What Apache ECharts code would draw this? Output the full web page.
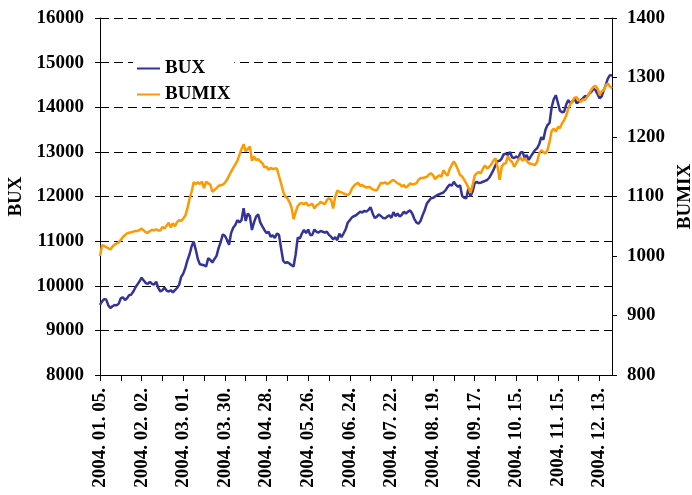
<!DOCTYPE html>
<html>
<head>
<meta charset="utf-8">
<script src="https://cdn.jsdelivr.net/npm/echarts@6/dist/echarts.min.js"></script>
<style>
html, body { margin: 0; padding: 0; background: #fff; }
#main { width: 692px; height: 495px; }
</style>
</head>
<body>
<div id="main"></div>
<script>
// trading days of the Budapest exchange, 2004
var firstDay = '2004-01-05';
var dayCount = 247;
var holidays = ['2004-03-15', '2004-04-12', '2004-05-31', '2004-08-20', '2004-11-01'];

// BUX, left axis
var bux = [
  9570, 9650, 9700, 9690, 9560, 9500, 9540, 9570, 9560, 9600,
  9720, 9740, 9680, 9720, 9790, 9800, 9870, 9960, 10030, 10100,
  10180, 10120, 10060, 10040, 10090, 10040, 10030, 10090, 9950, 9870,
  9900, 9960, 9890, 9870, 9900, 9850, 9900, 9950, 10020, 10200,
  10270, 10400, 10570, 10700, 10880, 10990, 10810, 10600, 10480, 10470,
  10460, 10430, 10620, 10580, 10520, 10600, 10670, 10850, 10980, 11150,
  11120, 11030, 10920, 11180, 11300, 11360, 11470, 11420, 11470, 11740,
  11450, 11620, 11560, 11250, 11420, 11550, 11600, 11420, 11330, 11250,
  11180, 11210, 11100, 11130, 11070, 11170, 11140, 10840, 10560, 10510,
  10530, 10500, 10460, 10430, 10700, 11080, 11060, 11170, 11250, 11180,
  11260, 11140, 11140, 11260, 11210, 11190, 11230, 11210, 11190, 11210,
  11140, 11100, 11040, 11090, 11020, 11170, 11090, 11170, 11260, 11410,
  11470, 11530, 11560, 11580, 11620, 11660, 11640, 11680, 11660, 11700,
  11760, 11620, 11520, 11550, 11600, 11560, 11520, 11510, 11550, 11580,
  11520, 11650, 11560, 11620, 11550, 11590, 11660, 11620, 11660, 11690,
  11620, 11500, 11420, 11390, 11450, 11580, 11690, 11840, 11900, 11960,
  11970, 12000, 12030, 12050, 12070, 12090, 12140, 12210, 12270, 12240,
  12330, 12260, 12220, 12250, 12010, 11970, 11960, 12180, 12000, 12110,
  12290, 12330, 12300, 12310, 12330, 12350, 12370, 12420, 12500, 12590,
  12700, 12790, 12800, 12850, 12950, 12960, 12930, 13000, 12880, 12860,
  12900, 12860, 12980, 13000, 12870, 12930, 12820, 12900, 12970, 13040,
  13080, 13170, 13330, 13270, 13490, 13600, 13650, 14000, 14180, 14270,
  14100, 13920, 13890, 13900, 14060, 14160, 14090, 14130, 14200, 14090,
  14120, 14160, 14200, 14250, 14240, 14300, 14340, 14410, 14390, 14300,
  14200, 14240, 14380, 14500, 14640, 14720, 14710
];

// BUMIX, right axis
var bumix = [
  1000, 1018, 1017, 1015, 1013, 1011, 1016, 1019, 1021, 1023,
  1027, 1032, 1035, 1038, 1039, 1040, 1041, 1042, 1042, 1044,
  1046, 1043, 1040, 1039, 1042, 1044, 1043, 1045, 1043, 1043,
  1049, 1046, 1051, 1056, 1048, 1055, 1050, 1057, 1060, 1059,
  1063, 1068, 1080, 1096, 1108, 1124, 1121, 1124, 1121, 1125,
  1114, 1125, 1122, 1120, 1108, 1111, 1114, 1118, 1119, 1120,
  1123, 1128, 1135, 1142, 1148, 1154, 1160, 1170, 1180, 1188,
  1176, 1180, 1184, 1160, 1167, 1161, 1163, 1159, 1156, 1149,
  1150, 1145, 1148, 1146, 1147, 1147, 1134, 1122, 1108, 1100,
  1097, 1091, 1082, 1062, 1074, 1084, 1088, 1089, 1087, 1090,
  1085, 1086, 1088, 1080, 1085, 1087, 1091, 1089, 1087, 1094,
  1097, 1095, 1080, 1099, 1110, 1108, 1107, 1105, 1104, 1102,
  1105, 1113, 1118, 1121, 1123, 1118, 1119, 1117, 1115, 1116,
  1115, 1112, 1111, 1110, 1117, 1123, 1122, 1124, 1121, 1123,
  1126, 1128, 1125, 1122, 1121, 1117, 1119, 1115, 1118, 1122,
  1120, 1121, 1122, 1128, 1131, 1131, 1132, 1133, 1137, 1139,
  1136, 1129, 1133, 1136, 1133, 1144, 1139, 1135, 1146, 1153,
  1159, 1153, 1145, 1136, 1134, 1128, 1122, 1115, 1106, 1119,
  1135, 1139, 1141, 1139, 1147, 1152, 1147, 1150, 1154, 1160,
  1164, 1150, 1128, 1150, 1155, 1156, 1168, 1161, 1158, 1150,
  1156, 1162, 1166, 1160, 1164, 1160, 1156, 1155, 1154, 1153,
  1158, 1172, 1178, 1175, 1172, 1178, 1192, 1210, 1214, 1209,
  1217, 1215, 1223, 1228, 1236, 1248, 1255, 1260, 1266, 1267,
  1262, 1259, 1263, 1262, 1267, 1273, 1279, 1284, 1286, 1282,
  1271, 1276, 1279, 1287, 1290, 1285, 1282
];

function tradingDays(start, n, skip) {
  var out = [];
  var d = new Date(start + 'T00:00:00Z');
  while (out.length < n) {
    var wd = d.getUTCDay();
    var iso = d.toISOString().slice(0, 10);
    if (wd !== 0 && wd !== 6 && skip.indexOf(iso) < 0) {
      var p = iso.split('-');
      out.push(p[0] + '. ' + p[1] + '. ' + p[2] + '.');
    }
    d.setUTCDate(d.getUTCDate() + 1);
  }
  return out;
}

var days = tradingDays(firstDay, dayCount, holidays);
var font = 'Liberation Serif';
var txt = { color: '#000', fontFamily: font, fontWeight: 'bold', fontSize: 19 };
var plain = function (v) { return String(v); };

var chart = echarts.init(document.getElementById('main'));
chart.setOption({
  animation: false,
  backgroundColor: '#fff',
  grid: { left: 100, right: 80, top: 18, bottom: 120, outerBoundsMode: 'none' },
  legend: {
    orient: 'vertical',
    left: 133,
    top: 56,
    icon: 'rect',
    itemWidth: 23,
    itemHeight: 2,
    itemGap: 7,
    padding: [3, 4, 3, 4],
    backgroundColor: '#fff',
    textStyle: txt,
    data: ['BUX', 'BUMIX']
  },
  xAxis: {
    type: 'category',
    data: days,
    boundaryGap: false,
    axisLine: { lineStyle: { color: '#000', width: 1 } },
    axisTick: { interval: 9, length: 6, lineStyle: { color: '#000' } },
    axisLabel: Object.assign({ interval: 19, rotate: 90, margin: 13 }, txt),
    splitLine: { show: false }
  },
  yAxis: [
    {
      type: 'value',
      name: 'BUX',
      nameLocation: 'middle',
      nameRotate: 90,
      nameGap: 65,
      nameTextStyle: txt,
      min: 8000,
      max: 16000,
      interval: 1000,
      axisLine: { show: true, lineStyle: { color: '#000', width: 1 } },
      axisTick: { show: true, length: 5, lineStyle: { color: '#000' } },
      axisLabel: Object.assign({ margin: 16, formatter: plain }, txt),
      splitLine: { lineStyle: { color: '#000', type: [9, 5], width: 1 } }
    },
    {
      type: 'value',
      name: 'BUMIX',
      nameLocation: 'middle',
      nameRotate: 90,
      nameGap: 62,
      nameTextStyle: txt,
      min: 800,
      max: 1400,
      interval: 100,
      axisLine: { show: true, lineStyle: { color: '#000', width: 1 } },
      axisTick: { show: true, length: 5, lineStyle: { color: '#000' } },
      axisLabel: Object.assign({ margin: 15, formatter: plain }, txt),
      splitLine: { show: false }
    }
  ],
  series: [
    {
      name: 'BUX',
      type: 'line',
      yAxisIndex: 0,
      data: bux,
      showSymbol: false,
      symbol: 'none',
      color: '#333399',
      lineStyle: { color: '#333399', width: 2.5 }
    },
    {
      name: 'BUMIX',
      type: 'line',
      yAxisIndex: 1,
      data: bumix,
      showSymbol: false,
      symbol: 'none',
      color: '#FF9900',
      lineStyle: { color: '#FF9900', width: 2.5 }
    }
  ]
});
</script>
</body>
</html>
